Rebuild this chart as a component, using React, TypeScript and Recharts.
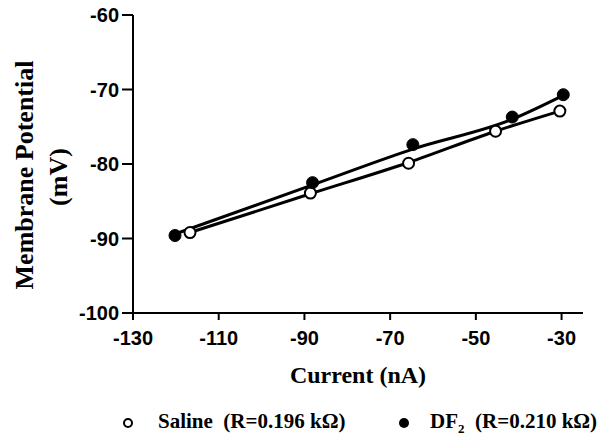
import React from 'react';
import {
  ComposedChart,
  Line,
  Scatter,
  XAxis,
  YAxis,
  Legend,
  Label,
} from 'recharts';

// current (nA), membrane potential (mV)
const salinePoints = [
  { x: -116.7, y: -89.2 },
  { x: -88.6, y: -83.9 },
  { x: -65.7, y: -79.9 },
  { x: -45.4, y: -75.6 },
  { x: -30.4, y: -72.9 },
];

const df2Points = [
  { x: -120.2, y: -89.6 },
  { x: -88.1, y: -82.5 },
  { x: -64.7, y: -77.4 },
  { x: -41.5, y: -73.7 },
  { x: -29.6, y: -70.7 },
];

// fitted lines
const salineFit = [
  { x: -116.7, y: -89.2 },
  { x: -88.6, y: -84.0 },
  { x: -65.7, y: -79.8 },
  { x: -45.4, y: -75.6 },
  { x: -30.4, y: -72.9 },
];

const df2Fit = [
  { x: -120.2, y: -89.4 },
  { x: -88.1, y: -82.8 },
  { x: -64.7, y: -78.0 },
  { x: -41.5, y: -74.0 },
  { x: -29.6, y: -70.8 },
];

const xTicks = [-130, -110, -90, -70, -50, -30];
const yTicks = [-100, -90, -80, -70, -60];

const serif = '"Liberation Serif", "Times New Roman", serif';
const sans = '"Liberation Sans", Arial, sans-serif';

const OpenDot = (props: any) => (
  <circle cx={props.cx} cy={props.cy} r={5.5} fill="#fff" stroke="#000" strokeWidth={2} />
);

const FilledDot = (props: any) => (
  <circle cx={props.cx} cy={props.cy} r={6} fill="#000" stroke="#000" strokeWidth={1} />
);

function LegendContent() {
  const text = { fontFamily: serif, fontWeight: 'bold' as const, fontSize: 21, color: '#000' };
  return (
    <div style={{ position: 'relative', height: 40, width: 616 }}>
      <svg width={12} height={12} style={{ position: 'absolute', left: 122, top: 18 }}>
        <circle cx={6} cy={6} r={4} fill="#fff" stroke="#000" strokeWidth={2} />
      </svg>
      <span style={{ ...text, position: 'absolute', left: 158, top: 10, whiteSpace: 'nowrap' }}>
        Saline&nbsp; (R=0.196 kΩ)
      </span>
      <svg width={12} height={12} style={{ position: 'absolute', left: 398, top: 18 }}>
        <circle cx={6} cy={6} r={5} fill="#000" />
      </svg>
      <span style={{ ...text, position: 'absolute', left: 430, top: 10, whiteSpace: 'nowrap' }}>
        DF<sub style={{ fontSize: 13 }}>2</sub>&nbsp; (R=0.210 kΩ)
      </span>
    </div>
  );
}

export default function App() {
  return (
    <div style={{ position: 'absolute', left: 0, top: 0, background: '#fff' }}>
      <ComposedChart
        width={616}
        height={439}
        margin={{ top: 15, right: 33, bottom: 0, left: 0 }}
      >
        <XAxis
          dataKey="x"
          type="number"
          domain={[-130, -25]}
          ticks={xTicks}
          allowDataOverflow
          height={86}
          stroke="#000"
          strokeWidth={2}
          tickSize={7}
          tickMargin={11}
          tick={{ fill: '#000', fontFamily: sans, fontWeight: 'bold', fontSize: 20 }}
        >
          <Label
            content={({ viewBox }: any) => (
              <text
                x={viewBox.x + viewBox.width / 2}
                y={viewBox.y + 62}
                textAnchor="middle"
                dominantBaseline="central"
                fontFamily={serif}
                fontWeight="bold"
                fontSize={24}
                fill="#000"
              >
                Current (nA)
              </text>
            )}
          />
        </XAxis>
        <YAxis
          dataKey="y"
          type="number"
          domain={[-100, -60]}
          ticks={yTicks}
          allowDataOverflow
          width={133}
          stroke="#000"
          strokeWidth={2}
          tickSize={11}
          tickMargin={3}
          tick={{ fill: '#000', fontFamily: sans, fontWeight: 'bold', fontSize: 20 }}
        >
          <Label
            content={() => (
              <g fontFamily={serif} fontWeight="bold" fontSize={26} fill="#000">
                <text
                  x={24}
                  y={175}
                  textAnchor="middle"
                  dominantBaseline="central"
                  transform="rotate(-90, 24, 175)"
                >
                  Membrane Potential
                </text>
                <text
                  x={58}
                  y={177}
                  textAnchor="middle"
                  dominantBaseline="central"
                  transform="rotate(-90, 58, 177)"
                >
                  (mV)
                </text>
              </g>
            )}
          />
        </YAxis>
        <Legend verticalAlign="bottom" height={40} content={() => <LegendContent />} />
        <Line
          data={df2Fit}
          dataKey="y"
          type="monotone"
          stroke="#000"
          strokeWidth={3}
          dot={false}
          activeDot={false}
          isAnimationActive={false}
          legendType="none"
        />
        <Line
          data={salineFit}
          dataKey="y"
          type="monotone"
          stroke="#000"
          strokeWidth={3}
          dot={false}
          activeDot={false}
          isAnimationActive={false}
          legendType="none"
        />
        <Scatter
          name="Saline"
          data={salinePoints}
          dataKey="y"
          shape={OpenDot}
          isAnimationActive={false}
        />
        <Scatter
          name="DF2"
          data={df2Points}
          dataKey="y"
          shape={FilledDot}
          isAnimationActive={false}
        />
      </ComposedChart>
    </div>
  );
}
